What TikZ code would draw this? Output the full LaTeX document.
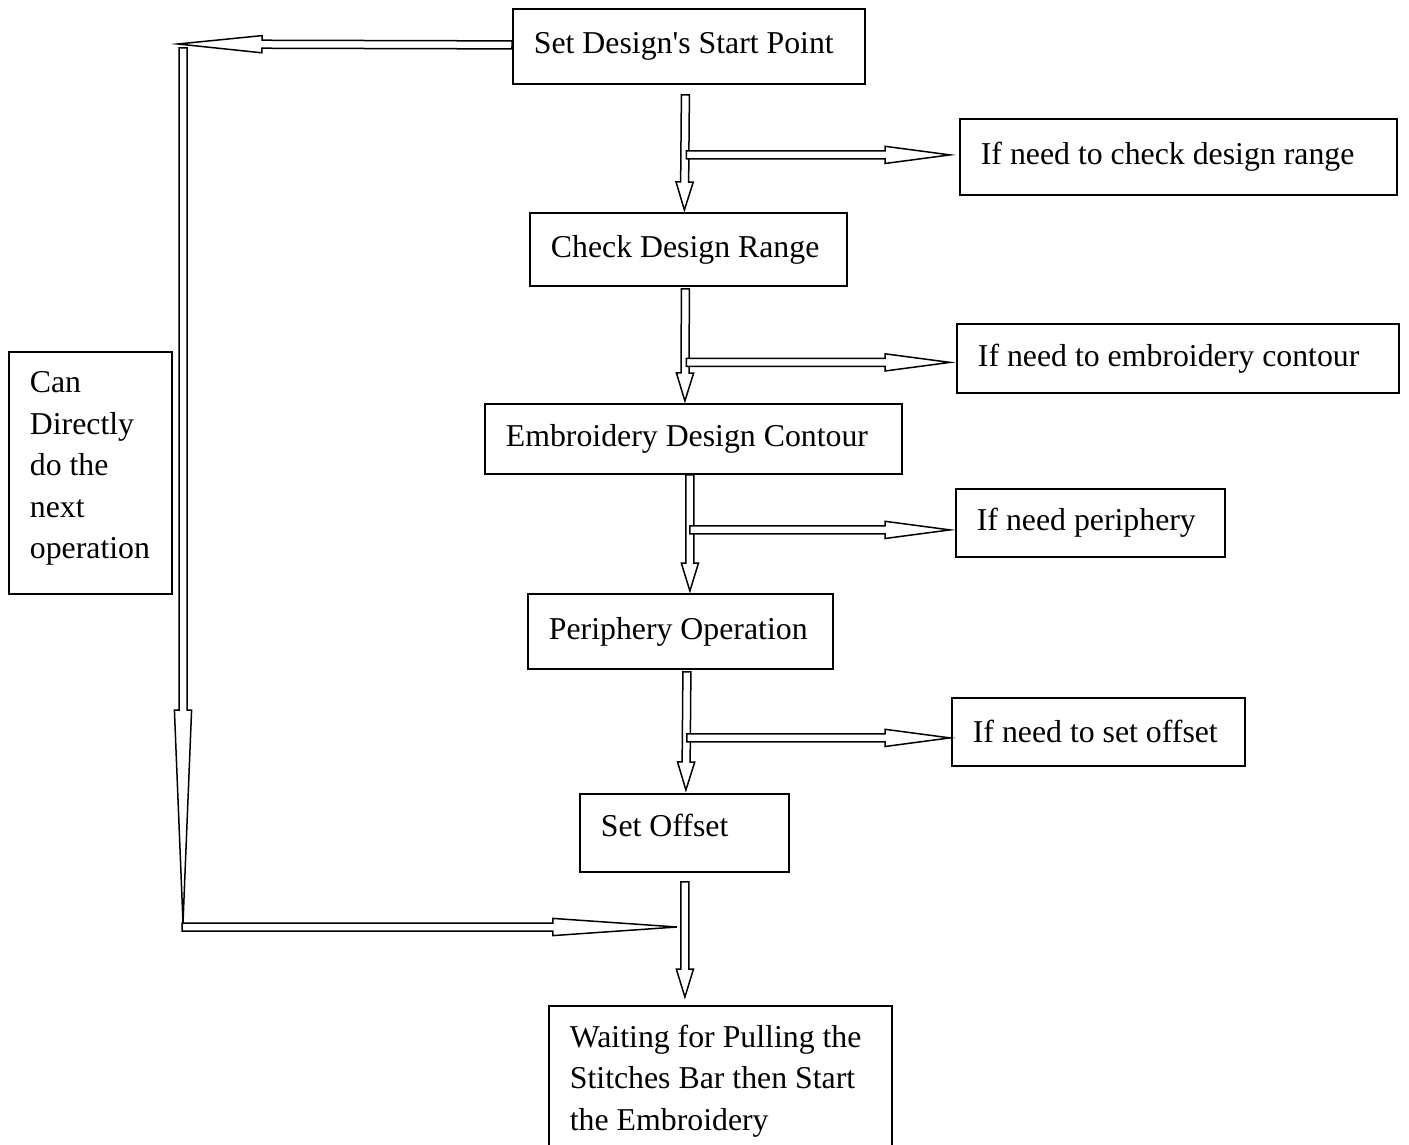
\documentclass[tikz,border=0pt]{standalone}
\usepackage{fontspec}
\setmainfont{Liberation Serif}
\usepackage{tikz}
\usetikzlibrary{
    calc,
    positioning
}

\def\shw{2pt}
\def\hhw{4.3pt}
\newcommand{\hollowarrow}[3]{%
    \coordinate (hb) at ($(#2)!#3!(#1)$);
    \draw[flow]
    ($(#1)!\shw!90:(#2)$) -- ($(hb)!\shw!90:(#2)$) -- ($(hb)!\hhw!90:(#2)$) -- (#2)
    -- ($(hb)!\hhw!-90:(#2)$) -- ($(hb)!\shw!-90:(#2)$) -- ($(#1)!\shw!-90:(#2)$) -- cycle;
}

\begin{document}
\begin{tikzpicture}[x=0.5pt, y=-0.5pt,
    box/.style={draw, line width=0.9pt, anchor=north west, align=flush left,
        inner xsep=10.5pt, inner ysep=0pt,
        font=\fontsize{15.9pt}{20.75pt}\selectfont},
    flow/.style={draw, fill=white, line width=0.75pt, line join=miter}]
                        \clip (0, 0) rectangle (1409, 1145);

                        \node[box, text width=155pt, minimum height=37.5pt] (setstart) at (512, 8) {Set Design\textquotesingle s Start Point};
                        \node[box, text width=137.5pt, minimum height=36.5pt] (chkrange) at (529, 212) {Check Design Range};
                        \node[box, text width=187.5pt, minimum height=35pt] (contour) at (484, 403) {Embroidery Design Contour};
                        \node[box, text width=131.5pt, minimum height=37.5pt] (periphery) at (527, 593) {Periphery Operation};
                        \node[box, text depth=7.5pt, text width=83.5pt, minimum height=39pt] (setoffset) at (579, 793) {Set Offset};
                        \node[box, text width=150.5pt, minimum height=75pt] (waiting) at (548, 1005)
                        {Waiting for Pulling the\\Stitches Bar then Start\\the Embroidery};

                        \node[box, text width=197.5pt, minimum height=38pt] (ifrange) at (959, 118) {If need to check design range};
                        \node[box, text width=200pt, minimum height=34.5pt] (ifcontour) at (956, 323) {If need to embroidery contour};
                        \node[box, text width=113.5pt, minimum height=34pt] (ifperiph) at (955, 488) {If need periphery};
                        \node[box, text width=125.5pt, minimum height=34pt] (ifoffset) at (951, 697) {If need to set offset};

                        \node[box, text depth=90.5pt, text width=60.5pt, minimum height=121pt] (direct) at (8, 351)
                        {Can\\Directly\\do the\\next\\operation};

                        % main column
                        \coordinate (v1a) at ($(setstart.south)+(-3.5, 10)$);
                        \coordinate (v1b) at ($(chkrange.north)+(-4, -2)$);
                        \coordinate (v2a) at ($(chkrange.south)+(-3, 2)$);
                        \coordinate (v2b) at ($(contour.north)+(-8.5, -2)$);
                        \coordinate (v3a) at ($(contour.south)+(-3.5, 0)$);
                        \coordinate (v3b) at ($(periphery.north)+(9.5, -2)$);
                        \coordinate (v4a) at ($(periphery.south)+(6.5, 2)$);
                        \coordinate (v4b) at ($(setoffset.north)+(1.5, -3)$);
                        \coordinate (v5a) at ($(setoffset.south)+(0.5, 9)$);
                        \coordinate (v5b) at ($(waiting.north)+(-35.5, -8)$);
                        \hollowarrow{v1a}{v1b}{14pt}
                        \hollowarrow{v2a}{v2b}{14pt}
                        \hollowarrow{v3a}{v3b}{14pt}
                        \hollowarrow{v4a}{v4b}{14pt}
                        \hollowarrow{v5a}{v5b}{14pt}

                        % side branches
                        \coordinate (s1a) at ($(ifrange.west -| v1a)+(1, -2)$);
                        \coordinate (s1b) at ($(ifrange.west)+(-9, -2)$);
                        \coordinate (s2a) at ($(ifcontour.west -| v2a)+(1, 4)$);
                        \coordinate (s2b) at ($(ifcontour.west)+(-6, 4)$);
                        \coordinate (s3a) at ($(ifperiph.west -| v3a)+(0, 7)$);
                        \coordinate (s3b) at ($(ifperiph.west)+(-5, 7)$);
                        \coordinate (s4a) at ($(ifoffset.west -| v4a)+(0, 6)$);
                        \coordinate (s4b) at ($(ifoffset.west)+(-1, 6)$);
                        \hollowarrow{s1a}{s1b}{32.5pt}
                        \hollowarrow{s2a}{s2b}{32.5pt}
                        \hollowarrow{s3a}{s3b}{32.5pt}
                        \hollowarrow{s4a}{s4b}{32.5pt}

                        % bypass on the left
                        \coordinate (tl) at (178, 44);
                        \coordinate (bl) at (183, 927);
                        \coordinate (sw) at ($(setstart.west)+(0, -1.5)$);
                        \hollowarrow{sw}{tl}{42pt}
                        \hollowarrow{$(tl)+(5, 4)$}{$(bl)+(0, -4)$}{106.5pt}
                        \coordinate (bs) at ($(bl)+(-1, 0)$);
                        \coordinate (bt) at ($(bl -| v5a)+(-8, 0)$);
                        \hollowarrow{bs}{bt}{62pt}
                    \end{tikzpicture}
\end{document}
